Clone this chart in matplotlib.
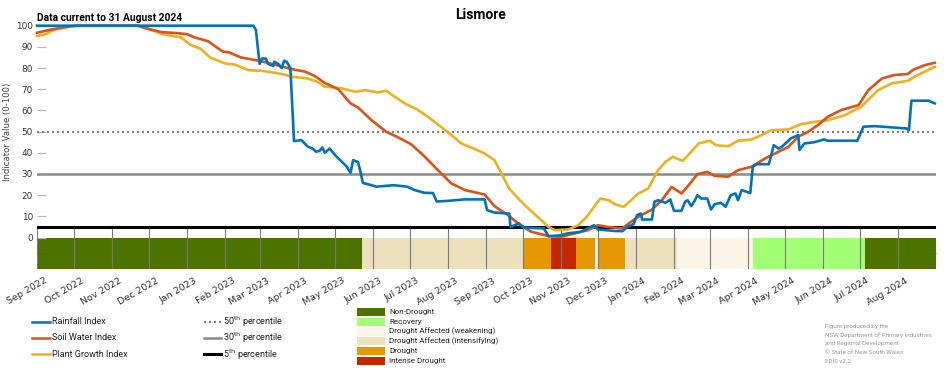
import matplotlib
matplotlib.use("Agg")
import matplotlib.pyplot as plt
import matplotlib.dates as mdates
import matplotlib.transforms as mtransforms
from matplotlib.lines import Line2D
from matplotlib.patches import Rectangle
import pandas as pd

# ---------------- data ----------------
rain_dates = ["2022-09-01", "2023-02-24", "2023-02-26", "2023-03-01", "2023-03-03", "2023-03-06",
              "2023-03-08", "2023-03-12", "2023-03-13", "2023-03-16", "2023-03-19", "2023-03-21",
              "2023-03-23", "2023-03-26", "2023-03-29", "2023-04-04", "2023-04-09", "2023-04-13",
              "2023-04-16", "2023-04-19", "2023-04-21", "2023-04-23", "2023-04-27", "2023-05-02",
              "2023-05-07", "2023-05-11", "2023-05-14", "2023-05-16", "2023-05-20", "2023-05-22",
              "2023-05-24", "2023-05-31", "2023-06-04", "2023-06-18", "2023-06-29", "2023-07-05",
              "2023-07-13", "2023-07-20", "2023-07-23", "2023-08-01", "2023-08-15", "2023-08-31",
              "2023-09-02", "2023-09-08", "2023-09-20", "2023-09-21", "2023-09-28", "2023-10-02",
              "2023-10-18", "2023-10-22", "2023-11-01", "2023-11-06", "2023-11-17", "2023-11-28",
              "2023-12-01", "2023-12-15", "2023-12-21", "2023-12-25", "2023-12-30", "2024-01-02",
              "2024-01-05", "2024-01-06", "2024-01-14", "2024-01-16", "2024-01-19", "2024-01-25",
              "2024-01-29", "2024-01-30", "2024-02-01", "2024-02-07", "2024-02-10", "2024-02-12",
              "2024-02-15", "2024-02-18", "2024-02-20", "2024-02-23", "2024-02-28", "2024-03-02",
              "2024-03-05", "2024-03-10", "2024-03-14", "2024-03-18", "2024-03-22", "2024-03-24",
              "2024-03-27", "2024-04-03", "2024-04-05", "2024-04-08", "2024-04-18", "2024-04-19",
              "2024-04-22", "2024-04-26", "2024-04-29", "2024-05-06", "2024-05-12", "2024-05-13",
              "2024-05-17", "2024-05-25", "2024-06-02", "2024-06-05", "2024-06-29", "2024-07-04",
              "2024-07-13", "2024-07-27", "2024-08-08", "2024-08-10", "2024-08-12", "2024-08-26",
              "2024-08-31"]
rain_vals = [100, 100, 98, 82, 84.5, 84.5,
             82, 81, 83, 82, 80, 83.5,
             83, 80, 45.5, 46, 43, 42,
             40.5, 41, 42.5, 40, 42, 38.5,
             35.7, 33.4, 30.6, 36.5, 35.7, 31,
             25.8, 24.7, 24, 24.7, 24, 22.4,
             21.1, 21, 17, 17.3, 18, 18,
             12.9, 11.8, 11.3, 5, 6.6, 4.7,
             4.3, 0.6, 1.1, 1.9, 2.7, 5.8,
             3.8, 3.1, 3, 5, 6.3, 10.6,
             11.3, 8.5, 8.5, 16.9, 17.6, 16.4,
             18, 16, 12.6, 12.6, 16.9, 17.6,
             14.8, 17.6, 20, 18.4, 18.4, 13.2,
             15.7, 16.4, 14.5, 20, 20.8, 17.6,
             22.4, 21, 33.4, 34.6, 34.6, 36.5,
             43.6, 42, 43, 46.8, 48.3, 41.3,
             44.4, 45, 46.3, 45.7, 45.7, 52.3,
             52.6, 52, 51.5, 50.7, 64.6, 64.6,
             63.3]

soil_dates = ["2022-09-01", "2022-09-11", "2022-09-29", "2022-10-04", "2022-11-22", "2022-11-27",
              "2022-12-11", "2022-12-24", "2023-01-01", "2023-01-07", "2023-01-18", "2023-01-30",
              "2023-02-04", "2023-02-14", "2023-02-28", "2023-03-13", "2023-03-27", "2023-04-07",
              "2023-04-15", "2023-04-23", "2023-05-04", "2023-05-14", "2023-05-20", "2023-05-31",
              "2023-06-12", "2023-06-22", "2023-07-02", "2023-07-12", "2023-07-24", "2023-08-04",
              "2023-08-15", "2023-08-31", "2023-09-08", "2023-09-19", "2023-09-29", "2023-10-08",
              "2023-10-22", "2023-11-01", "2023-11-12", "2023-11-23", "2023-12-01", "2023-12-09",
              "2023-12-21", "2023-12-26", "2024-01-03", "2024-01-14", "2024-01-22", "2024-01-30",
              "2024-02-07", "2024-02-14", "2024-02-20", "2024-02-28", "2024-03-05", "2024-03-16",
              "2024-03-24", "2024-04-04", "2024-04-15", "2024-04-26", "2024-05-04", "2024-05-12",
              "2024-05-20", "2024-05-28", "2024-06-05", "2024-06-16", "2024-06-30", "2024-07-08",
              "2024-07-19", "2024-07-29", "2024-08-09", "2024-08-14", "2024-08-23", "2024-08-31"]
soil_vals = [96.7, 98, 99.8, 100, 100, 99,
             97, 96.5, 96, 94.5, 92.7, 87.8,
             87.4, 85, 83.5, 81.7, 79.5, 78.3,
             76.2, 73, 70, 63.3, 61.4, 55.4,
             49.9, 47.2, 44.1, 38.9, 31.8, 25.5,
             22.4, 20.3, 14.8, 10.6, 5.8, 2.7,
             0.7, 0.3, 1.9, 3.5, 5.8, 5,
             4.3, 6.6, 9.8, 13.2, 17.6, 23.9,
             20.8, 25.5, 29.9, 31, 29.1, 28.7,
             31.8, 33.4, 37.3, 40.5, 42.8, 47.6,
             49.9, 53.1, 57, 60.2, 62.5, 69.6,
             75.1, 76.7, 77.2, 79.4, 81.4, 82.5]

plant_dates = ["2022-09-01", "2022-09-08", "2022-09-16", "2022-10-04", "2022-11-22", "2022-11-27",
               "2022-12-03", "2022-12-13", "2022-12-27", "2023-01-04", "2023-01-12", "2023-01-20",
               "2023-02-01", "2023-02-09", "2023-02-20", "2023-03-03", "2023-03-13", "2023-03-21",
               "2023-03-27", "2023-04-09", "2023-04-17", "2023-04-23", "2023-05-01", "2023-05-07",
               "2023-05-18", "2023-05-26", "2023-06-05", "2023-06-12", "2023-06-18", "2023-06-28",
               "2023-07-07", "2023-07-16", "2023-07-27", "2023-08-04", "2023-08-12", "2023-08-20",
               "2023-08-31", "2023-09-08", "2023-09-13", "2023-09-20", "2023-09-28", "2023-10-04",
               "2023-10-13", "2023-10-22", "2023-10-27", "2023-11-07", "2023-11-15", "2023-11-22",
               "2023-11-28", "2023-12-03", "2023-12-10", "2023-12-15", "2023-12-22", "2023-12-28",
               "2024-01-03", "2024-01-11", "2024-01-19", "2024-01-25", "2024-01-31", "2024-02-08",
               "2024-02-15", "2024-02-21", "2024-03-01", "2024-03-06", "2024-03-16", "2024-03-24",
               "2024-04-04", "2024-04-12", "2024-04-20", "2024-05-04", "2024-05-14", "2024-05-25",
               "2024-06-05", "2024-06-19", "2024-07-02", "2024-07-16", "2024-07-27", "2024-08-09",
               "2024-08-17", "2024-08-31"]
plant_vals = [95.1, 96, 98.5, 100, 100, 99.5,
              98, 95.9, 94.5, 90.9, 89.1, 84.9,
              82.2, 81.6, 79, 78.7, 77.8, 77,
              75.9, 75.1, 73.5, 71.2, 70.8, 70.4,
              68.8, 69.6, 68.5, 69.3, 66.8, 63,
              60.5, 57, 52, 48.3, 44.4, 42.5,
              39.7, 36.5, 31, 23.1, 18, 14.5,
              9.8, 5, 3.5, 3.8, 5.8, 9.8,
              14.5, 18.4, 17.6, 15.7, 14.5, 17.6,
              20.8, 23.1, 31.8, 35.7, 38.1, 36.2,
              40.5, 44.4, 45.7, 43.6, 43.1, 45.7,
              46.3, 48.3, 50.7, 51, 53.5, 54.6,
              55.4, 57.8, 61.7, 69.6, 72.8, 74,
              76.7, 80.6]

# drought category periods
cat_starts = ["2022-09-01", "2023-05-23", "2023-10-02", "2023-10-24", "2023-11-13", "2023-11-29",
              "2023-12-02", "2023-12-23", "2024-02-03", "2024-04-05", "2024-07-05"]
cat_ends = ["2023-05-23", "2023-10-02", "2023-10-24", "2023-11-13", "2023-11-29", "2023-12-02",
            "2023-12-23", "2024-02-03", "2024-04-05", "2024-07-05", "2024-09-01"]
cat_names = ["Non-Drought", "Drought Affected (intensifying)", "Drought", "Intense Drought", "Drought",
             "Drought Affected (weakening)", "Drought", "Drought Affected (intensifying)",
             "Drought Affected (weakening)", "Recovery", "Non-Drought"]

legend_cats = ["Non-Drought", "Recovery", "Drought Affected (weakening)",
               "Drought Affected (intensifying)", "Drought", "Intense Drought"]
cat_colors = {"Non-Drought": "#4c7300", "Recovery": "#a3ff73",
              "Drought Affected (weakening)": "#fcf4e6",
              "Drought Affected (intensifying)": "#ede1bd",
              "Drought": "#e69800", "Intense Drought": "#c32700"}

percentiles = [50, 30, 5]
yticks = [0, 10, 20, 30, 40, 50, 60, 70, 80, 90, 100]

C_RAIN, C_SOIL, C_PLANT = "#0072BD", "#D95319", "#EDB120"

# ---------------- figure ----------------
W, H = 952, 370
fig = plt.figure(figsize=(W / 100, H / 100), dpi=100)
fig.patch.set_facecolor("white")

def fx(px):
    return px / W

def fy(py):
    return 1 - py / H

ax_left, ax_right, ax_top, ax_bot = 37, 936, 25.7, 269.3
ax = fig.add_axes([fx(ax_left), fy(ax_bot), fx(ax_right - ax_left), (ax_bot - ax_top) / H])

x0 = pd.Timestamp("2022-09-01")
x1 = pd.Timestamp("2024-09-01")
for s in ax.spines.values():
    s.set_visible(False)

# drought band
starts = pd.to_datetime(cat_starts)
ends = pd.to_datetime(cat_ends)
widths = (ends - starts).days
ax.barh([-7.5] * len(cat_names), widths, height=15, left=mdates.date2num(starts),
        color=[cat_colors[c] for c in cat_names], linewidth=0, zorder=1)

# month gridlines (only in band region)
months = pd.date_range("2022-09-01", "2024-08-01", freq="MS")
ax.vlines(months, -15, 5, colors="#7a7a7a", linewidth=0.8, zorder=2)

# percentile lines
ax.axhline(percentiles[0], color="#7f7f7f", linestyle=(0, (1, 1.4)), linewidth=1.5, zorder=3)
ax.axhline(percentiles[1], color="#8a8a8a", linewidth=1.8, zorder=3)
ax.axhline(percentiles[2], color="black", linewidth=2.2, zorder=3)

# index lines
ax.plot(pd.to_datetime(plant_dates), plant_vals, color=C_PLANT, lw=1.9, zorder=4, clip_on=False)
ax.plot(pd.to_datetime(soil_dates), soil_vals, color=C_SOIL, lw=1.9, zorder=5, clip_on=False)
ax.plot(pd.to_datetime(rain_dates), rain_vals, color=C_RAIN, lw=1.9, zorder=6, clip_on=False)

ax.set_xlim(x0, x1)
ax.set_ylim(-15, 100)

# axes ticks
ax.set_yticks(yticks)
ax.set_yticklabels([str(v) for v in yticks])
ax.tick_params(axis="y", direction="in", length=6.5, width=0.8, color="#b5b5b5",
               labelsize=6.4, labelcolor="#333333", pad=3)
ax.set_yticks([-7.5], minor=True)
ax.tick_params(axis="y", which="minor", direction="in", length=6.5, width=0.8,
               color="#555555", right=True)
ax.set_xticks(months)
ax.set_xticklabels([d.strftime("%b %Y") for d in months], rotation=30, ha="right",
                   rotation_mode="anchor")
ax.tick_params(axis="x", length=0, labelsize=6.8, labelcolor="#333333", pad=5)
shift = mtransforms.ScaledTranslation(0.07, 0, fig.dpi_scale_trans)
for lab in ax.get_xticklabels():
    lab.set_transform(lab.get_transform() + shift)

ax.set_ylabel("Indicator Value (0-100)", fontsize=6.1, color="#444444")
ax.yaxis.set_label_coords(-0.0275, (ax_bot - 131.7) / (ax_bot - ax_top))

# titles
fig.text(fx(480), fy(15), "Lismore", fontsize=10, fontweight="bold", ha="center", va="center",
         family="Roboto")
fig.text(fx(37), fy(18), "Data current to 31 August 2024", fontsize=7.4, fontweight="bold",
         ha="left", va="center", family="Roboto")

# ---------------- legends ----------------
LF = "Roboto"
rows = [321.7, 337.7, 354.3]
for (lab, col), ry in zip([("Rainfall Index", C_RAIN), ("Soil Water Index", C_SOIL),
                           ("Plant Growth Index", C_PLANT)], rows):
    fig.add_artist(Line2D([fx(32), fx(50)], [fy(ry), fy(ry)], color=col, lw=1.8))
    fig.text(fx(52), fy(ry), lab, fontsize=6.5, ha="left", va="center", family=LF, color="#222222")

pstyles = [dict(color="#7f7f7f", linestyle=(0, (1, 1.4)), lw=1.5),
           dict(color="#8a8a8a", lw=1.8),
           dict(color="black", lw=2.2)]
for p, st, ry in zip(percentiles, pstyles, rows):
    fig.add_artist(Line2D([fx(204), fx(221)], [fy(ry), fy(ry)], **st))
    fig.text(fx(223), fy(ry), f"{p}$^{{\\mathrm{{th}}}}$ percentile", fontsize=6.5, ha="left",
             va="center", family=LF, color="#222222")

crow0, cstep = 312.0, 9.75
for i, c in enumerate(legend_cats):
    ry = crow0 + i * cstep
    fig.add_artist(Rectangle((fx(357), fy(ry + 4)), fx(28), 8 / H, transform=fig.transFigure,
                             facecolor=cat_colors[c], edgecolor="none"))
    fig.text(fx(389), fy(ry), c, fontsize=5.8, ha="left", va="center", family=LF, color="#222222")

foot = ["Figure produced by the", "NSW Department of Primary Industries",
        "and Regional Development", "\u00a9 State of New South Wales", "EDIS v2.2"]
for i, t in enumerate(foot):
    fig.text(fx(825), fy(326.7 + i * 8.6), t, fontsize=4.5, ha="left", va="center",
             family=LF, color="#9a9a9a")

fig.savefig("out.png", dpi=100, facecolor="white")
